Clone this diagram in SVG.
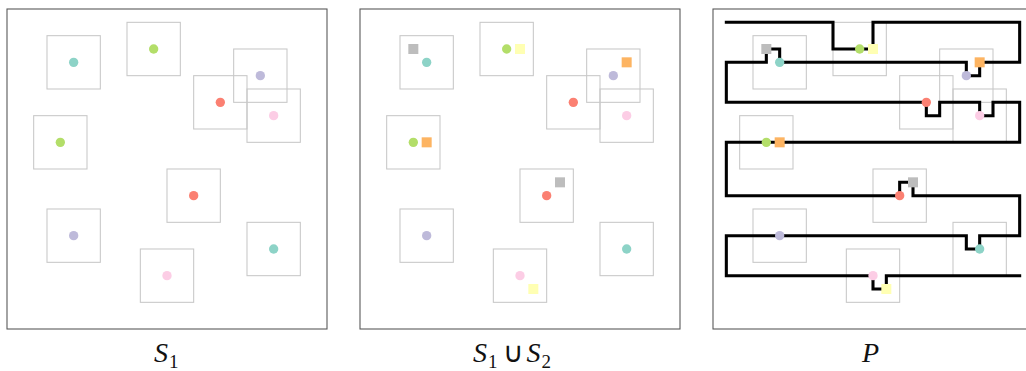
<svg xmlns="http://www.w3.org/2000/svg" width="1026" height="371" viewBox="0 0 1026 371">
<style>
.frame{fill:#fff;stroke:#555;stroke-width:0.08}
.box{fill:none;stroke:#c8c8c8;stroke-width:0.08}
.path{fill:none;stroke:#000;stroke-width:0.23;stroke-linejoin:miter;stroke-linecap:square}
.teal{fill:#8dd3c7}.green{fill:#b3de69}.purple{fill:#bebada}.red{fill:#fb8072}.pink{fill:#fccde5}
.gray{fill:#bdbdbd}.yellow{fill:#ffffb3}.orange{fill:#fdb462}
</style>
<defs>
<rect id="bx" class="box" x="-2" y="-2" width="4" height="4"/>
<circle id="dot" r="0.35"/>
<rect id="sq" x="-0.375" y="-0.375" width="0.75" height="0.75"/>
</defs>

<!-- Panel 1 -->
<g id="panel1" transform="translate(7,9) scale(13.3333)">
<rect class="frame" x="0" y="0" width="24" height="24"/>
<g id="p1-n1"><use href="#bx" x="5" y="4"/><use href="#dot" class="teal" x="5" y="4"/></g>
<g id="p1-n2"><use href="#bx" x="11" y="3"/><use href="#dot" class="green" x="11" y="3"/></g>
<g id="p1-n3"><use href="#bx" x="19" y="5"/><use href="#dot" class="purple" x="19" y="5"/></g>
<g id="p1-n4"><use href="#bx" x="16" y="7"/><use href="#dot" class="red" x="16" y="7"/></g>
<g id="p1-n5"><use href="#bx" x="20" y="8"/><use href="#dot" class="pink" x="20" y="8"/></g>
<g id="p1-n6"><use href="#bx" x="4" y="10"/><use href="#dot" class="green" x="4" y="10"/></g>
<g id="p1-n7"><use href="#bx" x="14" y="14"/><use href="#dot" class="red" x="14" y="14"/></g>
<g id="p1-n8"><use href="#bx" x="5" y="17"/><use href="#dot" class="purple" x="5" y="17"/></g>
<g id="p1-n9"><use href="#bx" x="12" y="20"/><use href="#dot" class="pink" x="12" y="20"/></g>
<g id="p1-n10"><use href="#bx" x="20" y="18"/><use href="#dot" class="teal" x="20" y="18"/></g>
</g>

<!-- Panel 2 -->
<g id="panel2" transform="translate(360,9) scale(13.3333)">
<rect class="frame" x="0" y="0" width="24" height="24"/>
<g id="p2-n1"><use href="#bx" x="5" y="4"/><use href="#dot" class="teal" x="5" y="4"/><use href="#sq" class="gray" x="4" y="3"/></g>
<g id="p2-n2"><use href="#bx" x="11" y="3"/><use href="#dot" class="green" x="11" y="3"/><use href="#sq" class="yellow" x="12" y="3"/></g>
<g id="p2-n3"><use href="#bx" x="19" y="5"/><use href="#dot" class="purple" x="19" y="5"/><use href="#sq" class="orange" x="20" y="4"/></g>
<g id="p2-n4"><use href="#bx" x="16" y="7"/><use href="#dot" class="red" x="16" y="7"/></g>
<g id="p2-n5"><use href="#bx" x="20" y="8"/><use href="#dot" class="pink" x="20" y="8"/></g>
<g id="p2-n6"><use href="#bx" x="4" y="10"/><use href="#dot" class="green" x="4" y="10"/><use href="#sq" class="orange" x="5" y="10"/></g>
<g id="p2-n7"><use href="#bx" x="14" y="14"/><use href="#dot" class="red" x="14" y="14"/><use href="#sq" class="gray" x="15" y="13"/></g>
<g id="p2-n8"><use href="#bx" x="5" y="17"/><use href="#dot" class="purple" x="5" y="17"/></g>
<g id="p2-n9"><use href="#bx" x="12" y="20"/><use href="#dot" class="pink" x="12" y="20"/><use href="#sq" class="yellow" x="13" y="21"/></g>
<g id="p2-n10"><use href="#bx" x="20" y="18"/><use href="#dot" class="teal" x="20" y="18"/></g>
</g>

<!-- Panel 3 -->
<g id="panel3" transform="translate(713,9) scale(13.3333)">
<rect class="frame" x="0" y="0" width="24" height="24"/>
<g id="p3-boxes">
<use href="#bx" x="5" y="4"/><use href="#bx" x="11" y="3"/><use href="#bx" x="19" y="5"/><use href="#bx" x="16" y="7"/><use href="#bx" x="20" y="8"/>
<use href="#bx" x="4" y="10"/><use href="#bx" x="14" y="14"/><use href="#bx" x="5" y="17"/><use href="#bx" x="12" y="20"/><use href="#bx" x="20" y="18"/>
</g>
<g id="connectors">
<polyline class="path" points="1,1 9,1 9,3 12,3 12,1 23,1 23,4 20,4 20,5 19,5 19,4 5,4 5,3 4,3 4,4 1,4 1,7 16,7 16,8 17,8 17,7 20,7 20,8 21,8 21,7 23,7 23,10 1,10 1,14 14,14 14,13 15,13 15,14 23,14 23,17 20,17 20,18 19,18 19,17 1,17 1,20 12,20 12,21 13,21 13,20 23,20"/>
</g>
<g id="p3-n1"><use href="#dot" class="teal" x="5" y="4"/><use href="#sq" class="gray" x="4" y="3"/></g>
<g id="p3-n2"><use href="#dot" class="green" x="11" y="3"/><use href="#sq" class="yellow" x="12" y="3"/></g>
<g id="p3-n3"><use href="#dot" class="purple" x="19" y="5"/><use href="#sq" class="orange" x="20" y="4"/></g>
<g id="p3-n4"><use href="#dot" class="red" x="16" y="7"/></g>
<g id="p3-n5"><use href="#dot" class="pink" x="20" y="8"/></g>
<g id="p3-n6"><use href="#dot" class="green" x="4" y="10"/><use href="#sq" class="orange" x="5" y="10"/></g>
<g id="p3-n7"><use href="#dot" class="red" x="14" y="14"/><use href="#sq" class="gray" x="15" y="13"/></g>
<g id="p3-n8"><use href="#dot" class="purple" x="5" y="17"/></g>
<g id="p3-n9"><use href="#dot" class="pink" x="12" y="20"/><use href="#sq" class="yellow" x="13" y="21"/></g>
<g id="p3-n10"><use href="#dot" class="teal" x="20" y="18"/></g>
</g>

<!-- Labels -->
<g id="labels" font-family="'Liberation Serif', 'Times New Roman', serif" font-size="28" fill="#111">
<text x="154" y="362"><tspan font-style="italic">S</tspan><tspan font-size="19" dx="1" dy="6">1</tspan></text>
<text x="473" y="362"><tspan font-style="italic">S</tspan><tspan font-size="19" dx="1" dy="6">1</tspan><tspan font-weight="300" dx="5" dy="-6">∪</tspan><tspan font-style="italic" dx="3">S</tspan><tspan font-size="19" dx="1" dy="6">2</tspan></text>
<text x="862" y="362" font-style="italic">P</text>
</g>
</svg>
